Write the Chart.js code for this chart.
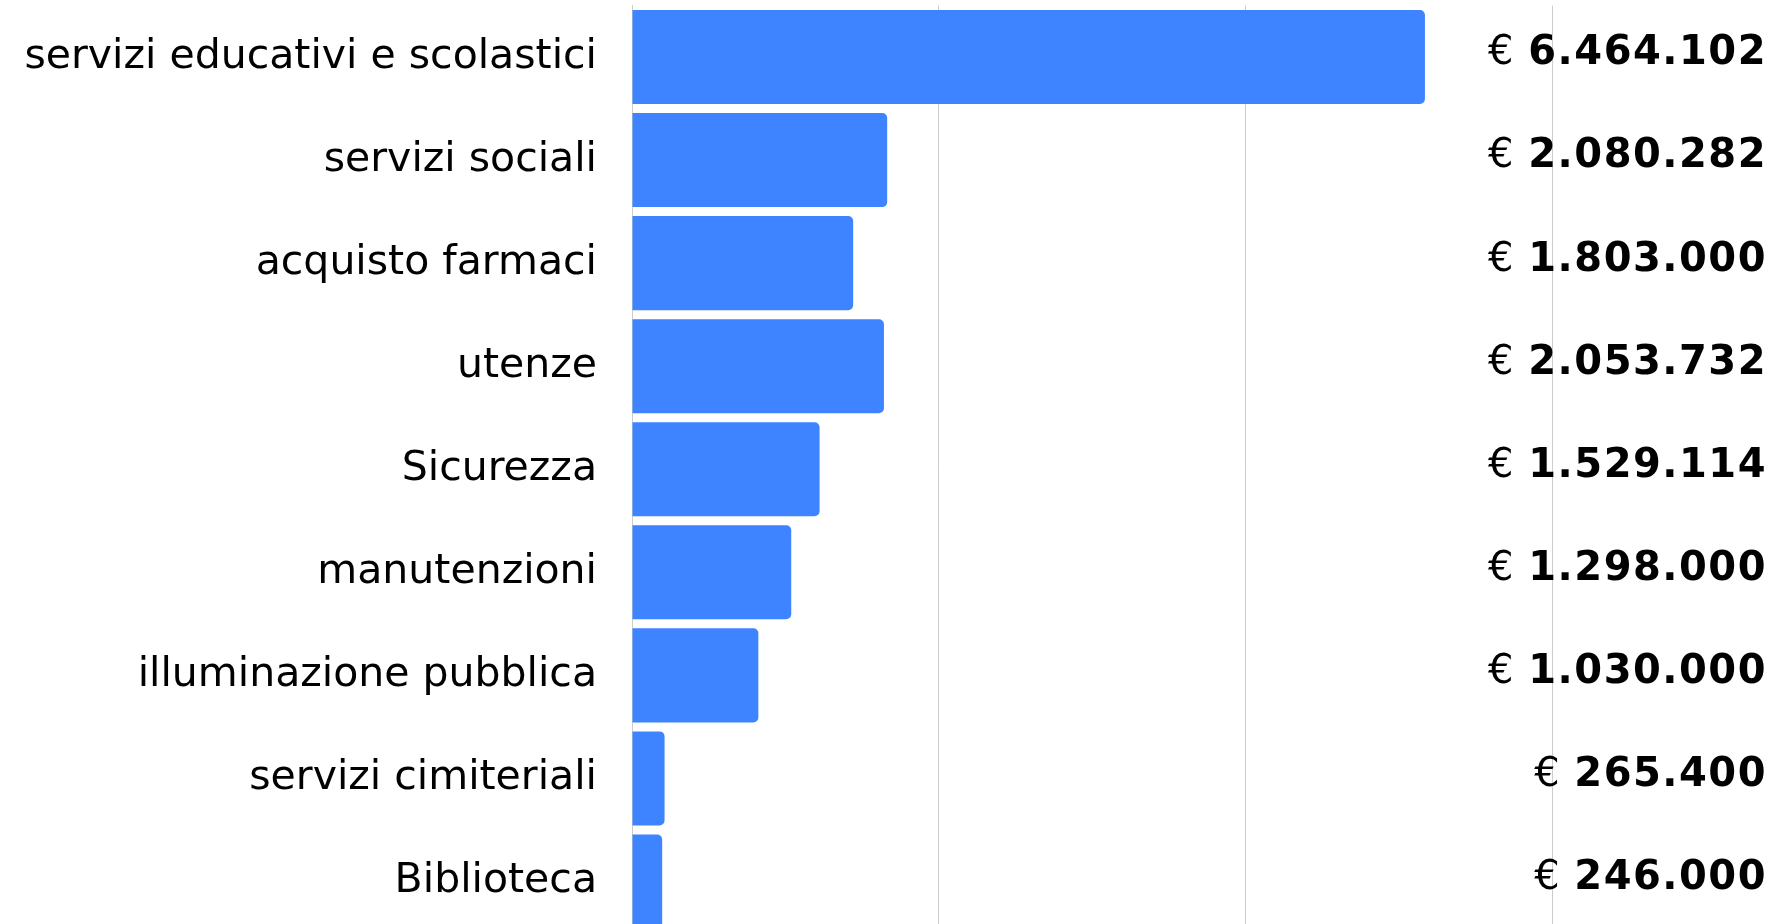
<!DOCTYPE html>
<html>
<head>
<meta charset="utf-8">
<script src="https://cdn.jsdelivr.net/npm/chart.js@4"></script>
<style>
  html, body { margin: 0; padding: 0; background: #fff; overflow: hidden; }
  #wrap { position: absolute; left: 0; top: 0; width: 1777px; height: 933px; }
</style>
</head>
<body>
<div id="wrap"><canvas id="c" width="1777" height="933"></canvas></div>
<script>
const categories = [
  "servizi educativi e scolastici",
  "servizi sociali",
  "acquisto farmaci",
  "utenze",
  "Sicurezza",
  "manutenzioni",
  "illuminazione pubblica",
  "servizi cimiteriali",
  "Biblioteca"
];
const values = [6464102, 2080282, 1803000, 2053732, 1529114, 1298000, 1030000, 265400, 246000];
const currencySymbol = "€";
const xMax = 7500000;
const xStep = 2500000;

function fmt(n) {
  return String(n).replace(/\B(?=(\d{3})+(?!\d))/g, ".");
}
const valueLabels = values.map(fmt);

const valueLabelPlugin = {
  id: 'valueLabels',
  afterDatasetsDraw(chart) {
    const ctx = chart.ctx;
    const y = chart.scales.y;
    const xRight = chart.width - 10;
    ctx.save();
    ctx.fillStyle = '#000';
    ctx.textBaseline = 'middle';
    ctx.textAlign = 'right';
    valueLabels.forEach((lab, i) => {
      const py = y.getPixelForValue(i) - 3;
      ctx.letterSpacing = '1.5px';
      ctx.font = 'bold 40px "DejaVu Sans"';
      const w = ctx.measureText(lab).width;
      ctx.fillText(lab, xRight, py);
      ctx.letterSpacing = '0px';
      ctx.font = 'normal 40px "DejaVu Sans"';
      ctx.fillText(currencySymbol + ' ', xRight - w - 2, py);
    });
    ctx.restore();
  }
};

new Chart(document.getElementById('c'), {
  type: 'bar',
  data: {
    labels: categories,
    datasets: [{
      data: values,
      backgroundColor: '#3e83ff',
      borderWidth: 0,
      borderRadius: 5,
      categoryPercentage: 1,
      barPercentage: 0.9126
    }]
  },
  options: {
    indexAxis: 'y',
    responsive: false,
    animation: false,
    devicePixelRatio: 1,
    layout: { padding: { top: 5.5, right: 225, bottom: 0, left: 0 } },
    plugins: { legend: { display: false }, tooltip: { enabled: false } },
    scales: {
      x: {
        min: 0,
        max: xMax,
        ticks: { display: false, stepSize: xStep },
        grid: { color: '#cccccc', lineWidth: 1, drawTicks: false },
        border: { display: false },
        afterFit(scale) {
          scale.height = 0;
          scale.paddingLeft = 0; scale.paddingRight = 0;
          scale.paddingTop = 0; scale.paddingBottom = 0;
        }
      },
      y: {
        z: 1,
        ticks: {
          color: '#000',
          padding: 35,
          font: { family: '"DejaVu Sans"', size: 41, weight: 'normal' }
        },
        grid: { display: false, drawTicks: false },
        border: { display: true, color: '#cccccc', width: 1 },
        afterFit(scale) {
          scale.width = 632;
          scale.paddingTop = 0; scale.paddingBottom = 0;
          scale.paddingLeft = 0; scale.paddingRight = 0;
        }
      }
    }
  },
  plugins: [valueLabelPlugin]
});
</script>
</body>
</html>
